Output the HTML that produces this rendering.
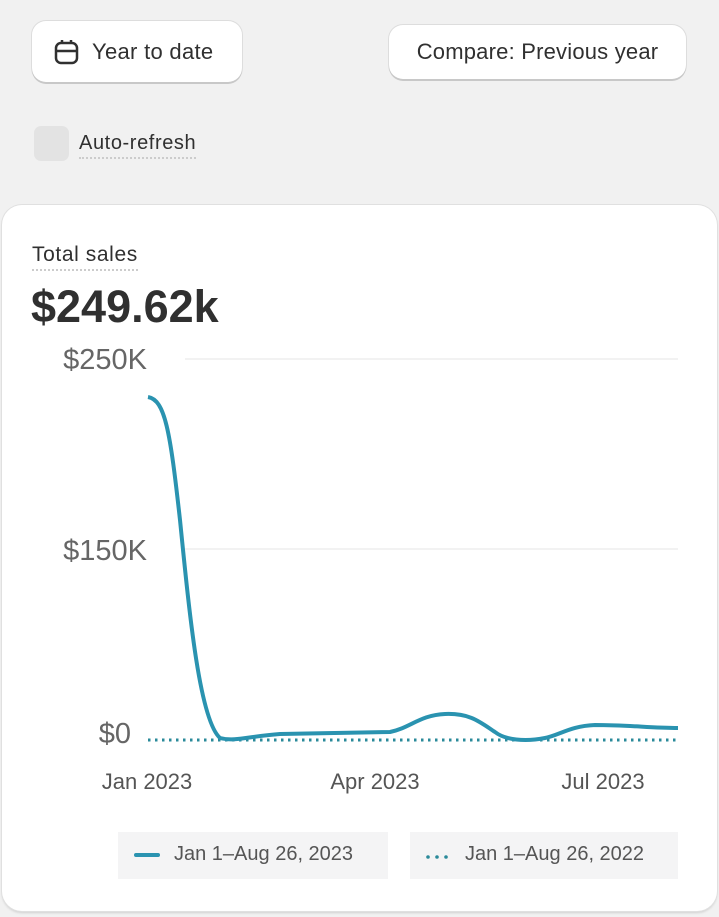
<!DOCTYPE html>
<html><head><style>
body{margin:0;width:719px;height:917px;background:#f1f1f1;font-family:"Liberation Sans",sans-serif;position:relative;overflow:hidden}
.btn{position:absolute;background:#fff;border-radius:14px;box-shadow:0 2px 0 #c8c8c8,0 0 0 1px #ddd;font-size:22px;color:#303030;display:flex;align-items:center}
.card{position:absolute;left:2px;top:205px;width:715px;height:706px;background:#fff;border-radius:20px;box-shadow:0 0 0 1px #e0e0e0,0 2px 2px #d0d0d0}
.t{position:absolute;white-space:nowrap}
</style></head><body>
<div class="btn" style="left:32px;top:21px;width:210px;height:61px">
<svg style="margin-left:22px" width="26" height="26" viewBox="0 0 26 26"><rect x="2" y="4" width="21" height="20" rx="5" fill="none" stroke="#303030" stroke-width="2.5"/><line x1="2" y1="12" x2="23" y2="12" stroke="#303030" stroke-width="2.5"/><line x1="8" y1="1" x2="8" y2="5" stroke="#303030" stroke-width="2.5"/><line x1="17" y1="1" x2="17" y2="5" stroke="#303030" stroke-width="2.5"/></svg>
<span style="margin-left:12px;letter-spacing:0.3px">Year to date</span></div>
<div class="btn" style="left:389px;top:25px;width:297px;height:54px;justify-content:center;letter-spacing:0.2px">Compare: Previous year</div>
<div style="position:absolute;left:34px;top:126px;width:35px;height:35px;background:#e3e3e3;border-radius:7px"></div>
<div class="t" style="left:79px;top:132px;font-size:20px;letter-spacing:0.6px;color:#303030;border-bottom:2px dotted #ccc;padding-bottom:2px">Auto-refresh</div>
<div class="card"></div>
<div style="position:absolute;left:118px;top:832px;width:270px;height:47px;background:#f4f4f5"></div>
<div style="position:absolute;left:410px;top:832px;width:268px;height:47px;background:#f4f4f5"></div>
<div class="t" style="left:32px;top:243px;font-size:21px;letter-spacing:0.6px;color:#303030;border-bottom:2px dotted #ccc;padding-bottom:2px">Total sales</div>
<div class="t" style="left:31px;top:281px;font-size:45px;font-weight:bold;color:#303030">$249.62k</div>
<svg style="position:absolute;left:0;top:0" width="719" height="917">
<g stroke="#e6e6e6" stroke-width="1"><line x1="185" y1="359" x2="678" y2="359"/><line x1="185" y1="549" x2="678" y2="549"/></g>
<g font-family="Liberation Sans,sans-serif" font-size="29" fill="#666" text-anchor="end">
<text x="147" y="369">$250K</text><text x="147" y="560">$150K</text><text x="131" y="743">$0</text></g>
<g font-family="Liberation Sans,sans-serif" font-size="22" fill="#555" text-anchor="middle">
<text x="147" y="789">Jan 2023</text><text x="375" y="789">Apr 2023</text><text x="603" y="789">Jul 2023</text></g>
<line x1="148" y1="740" x2="676" y2="740" stroke="#2a8a9a" stroke-width="3" stroke-dasharray="2.5 4.5"/>
<path d="M148,397 C165,400 170,430 180,520 C190,620 200,720 220,738 C235,742 250,736 280,734 L390,732 C410,728 420,715 445,714 C470,713 480,722 495,732 C505,740 525,742 545,738 C560,735 570,726 595,725 C630,725 650,728 678,728" fill="none" stroke="#2a93b0" stroke-width="4"/>
<circle cx="428" cy="857" r="1.8" fill="#2a8a9a"/><circle cx="437" cy="857" r="1.8" fill="#2a8a9a"/><circle cx="446" cy="857" r="1.8" fill="#2a8a9a"/>
<rect x="134" y="853" width="26" height="4" rx="2" fill="#2a93b0"/>
</svg>
<div class="t" style="left:174px;top:843px;font-size:20px;color:#555">Jan 1–Aug 26, 2023</div>
<div class="t" style="left:465px;top:843px;font-size:20px;color:#555">Jan 1–Aug 26, 2022</div>
</body></html>
